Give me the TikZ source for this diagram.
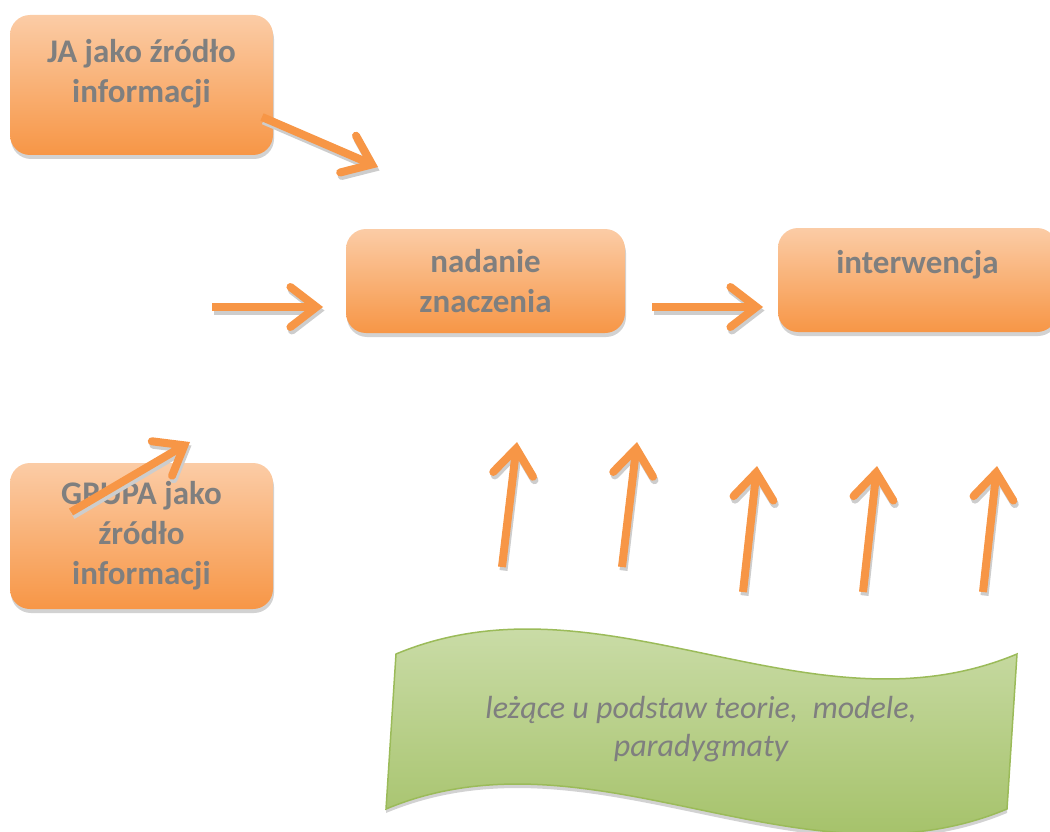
\documentclass[tikz,border=0pt]{standalone}
\usepackage{fontspec}
\setmainfont{Carlito}
\usetikzlibrary{arrows.meta, shadows}

\definecolor{boxtop}{RGB}{251,204,166}
\definecolor{boxbot}{RGB}{247,150,70}
\definecolor{arrcol}{RGB}{247,150,70}
\definecolor{shcol}{RGB}{205,205,205}
\definecolor{txtgray}{RGB}{127,127,127}
\definecolor{wavetop}{RGB}{212,227,184}
\definecolor{wavebot}{RGB}{155,187,89}

\tikzset{
	box/.style = {rounded corners = 20pt, top color = boxtop, bottom color = boxbot, draw = none,
		text = txtgray, font = \fontsize{33}{40}\selectfont\bfseries, align = center, inner sep = 0pt,
		drop shadow = {shadow xshift = 1pt, shadow yshift = -4pt, fill = black!35, opacity = 0.5}},
	arr/.style = {draw = arrcol, line width = 8pt,
		-{Straight Barb[length = 26pt, width = 40pt, line cap = round, line join = miter]}},
	arrsh/.style = {arr, draw = shcol},
	wave/.style = {draw = wavebot, line width = 1.5pt, top color = wavetop, bottom color = wavebot,
		drop shadow = {shadow xshift = 0pt, shadow yshift = -4pt, fill = black!35, opacity = 0.5}},
	wtxt/.style = {text = txtgray, font = \fontsize{32}{38}\selectfont\itshape, align = center}
}

\begin{document}
\begin{tikzpicture}[x = 1pt, y = -1pt]
			\path [use as bounding box, clip] (0,0) rectangle (1050,832);

			\begin{scope}
				\node [box, minimum width = 263pt, minimum height = 140pt, text depth = 28pt] (ja) at (141.5,85) {JA jako źródło\\informacji};
				\node [box, minimum width = 279pt, minimum height = 104pt] (nad) at (485.5,281) {nadanie\\znaczenia};
				\node [box, minimum width = 279pt, minimum height = 104pt, text depth = 36pt] (intw) at (917.5,280) {interwencja};
				\node [box, minimum width = 263pt, minimum height = 146pt] (grupa) at (141.5,536) {GRUPA jako\\źródło\\informacji};
			\end{scope}

			\begin{scope}
				\draw [wave] (396,654) .. controls (603,567.5) and (810,740.5) .. (1017,654) -- (1007,809)
					.. controls (800,895.5) and (593,722.5) .. (386,809) -- cycle;
				\node [wtxt] (teorie) at (701,729) {leżące u podstaw teorie,~ modele,\\paradygmaty};
			\end{scope}

			\begin{scope}
				\coordinate (jaS) at (262,117);
				\coordinate (jaE) at (378,167);
				\coordinate (inS) at (212,307);
				\coordinate (inE) at (323,307);
				\coordinate (nadS) at (652,307);
				\coordinate (nadE) at (763,307);
				\coordinate (grS) at (71,512);
				\coordinate (grE) at (190,442);
			\end{scope}

			\begin{scope}
				\coordinate (u1S) at (502,567);
				\coordinate (u1E) at (517,442);
				\coordinate (u2S) at (622,567);
				\coordinate (u2E) at (637,442);
				\coordinate (u3S) at (743,592);
				\coordinate (u3E) at (757,466);
				\coordinate (u4S) at (863,592);
				\coordinate (u4E) at (877,466);
				\coordinate (u5S) at (983,592);
				\coordinate (u5E) at (997,466);
			\end{scope}

			\begin{scope}[transform canvas = {shift = {(1.5pt,-3.5pt)}}]
				\draw [arrsh] (jaS) -- (jaE);
				\draw [arrsh] (inS) -- (inE);
				\draw [arrsh] (nadS) -- (nadE);
				\draw [arrsh] (grS) -- (grE);
				\draw [arrsh] (u1S) -- (u1E);
				\draw [arrsh] (u2S) -- (u2E);
				\draw [arrsh] (u3S) -- (u3E);
				\draw [arrsh] (u4S) -- (u4E);
				\draw [arrsh] (u5S) -- (u5E);
			\end{scope}

			\begin{scope}
				\draw [arr] (jaS) -- (jaE);
				\draw [arr] (inS) -- (inE);
				\draw [arr] (nadS) -- (nadE);
				\draw [arr] (grS) -- (grE);
				\draw [arr] (u1S) -- (u1E);
				\draw [arr] (u2S) -- (u2E);
				\draw [arr] (u3S) -- (u3E);
				\draw [arr] (u4S) -- (u4E);
				\draw [arr] (u5S) -- (u5E);
			\end{scope}
		\end{tikzpicture}
\end{document}
